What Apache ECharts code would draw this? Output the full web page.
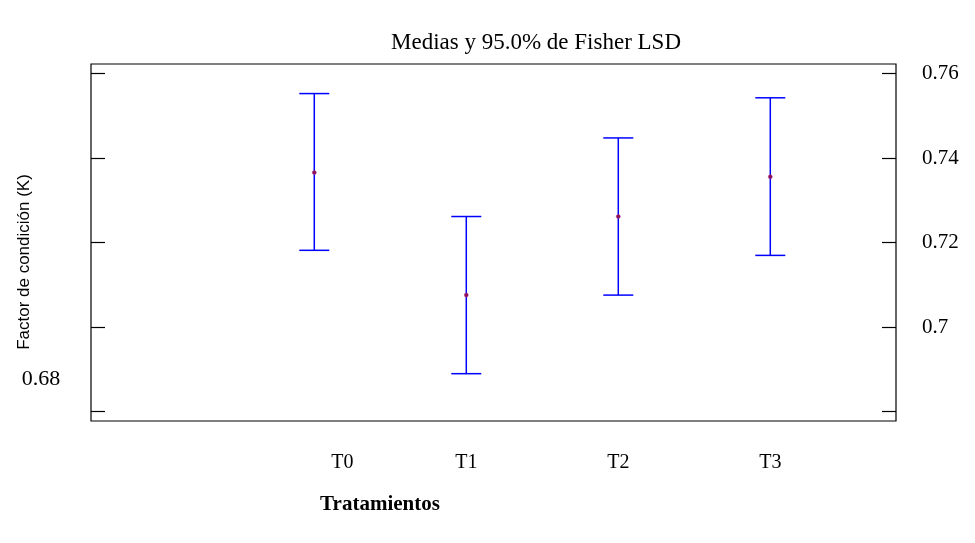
<!DOCTYPE html>
<html><head><meta charset="utf-8">
<script src="https://cdn.jsdelivr.net/npm/echarts@6/dist/echarts.min.js"></script>
<style>html,body{margin:0;padding:0;background:#fff}#c{width:975px;height:543px}</style>
</head><body><div id="c"></div>
<script>
const categories = ['T0', 'T1', 'T2', 'T3'];
const means  = [0.7366, 0.7076, 0.7262, 0.7356];
const lowers = [0.7182, 0.6890, 0.7076, 0.7170];
const uppers = [0.7553, 0.7262, 0.7448, 0.7543];
const yTicks = [0.68, 0.70, 0.72, 0.74, 0.76];
const rightLabelValues = [0.70, 0.72, 0.74, 0.76];
const leftLabelText = '0.68';
const titleText = 'Medias y 95.0% de Fisher LSD';
const yName = 'Factor de condición (K)';
const xName = 'Tratamientos';

const serif = '"Liberation Serif", "DejaVu Serif", serif';
const sans = '"Liberation Sans", Arial, sans-serif';
const chart = echarts.init(document.getElementById('c'), null, {renderer: 'canvas'});
const data = categories.map((c, i) => [i, lowers[i], uppers[i], means[i]]);

chart.setOption({
  backgroundColor: '#fff',
  animation: false,
  title: {
    text: titleText, left: 531, top: 26, textAlign: 'center',
    textStyle: {fontFamily: serif, fontSize: 23, fontWeight: 'normal', color: '#000'}
  },
  grid: {left: 91, right: 79, top: 64, bottom: 122, show: true, borderColor: '#000', borderWidth: 1.2, containLabel: false},
  xAxis: {
    type: 'value', min: -1.469, max: 3.827,
    axisLine: {show: false, onZero: false}, axisTick: {show: false}, splitLine: {show: false},
    axisLabel: {
      customValues: [0, 1, 2, 3], margin: 32,
      fontFamily: serif, fontSize: 20, color: '#000',
      formatter: v => { const i = Math.round(v); return i === 0 ? '{s|' + categories[i] + '}' : categories[i]; },
      rich: {s: {fontFamily: serif, fontSize: 20, color: '#000', padding: [0, 0, 0, 56]}}
    }
  },
  yAxis: [
    {
      type: 'value', position: 'right', min: 0.6778, max: 0.7623,
      axisLine: {show: false, onZero: false}, splitLine: {show: false},
      axisTick: {show: true, inside: true, length: 14, customValues: yTicks, lineStyle: {color: '#000', width: 1.2}},
      axisLabel: {customValues: rightLabelValues, margin: 26, fontFamily: serif, fontSize: 21, color: '#000',
        formatter: v => String(Math.round(v * 100) / 100)}
    },
    {
      type: 'value', position: 'left', min: 0.6778, max: 0.7623,
      axisLine: {show: false, onZero: false}, splitLine: {show: false},
      axisTick: {show: true, inside: true, length: 14, customValues: yTicks, lineStyle: {color: '#000', width: 1.2}},
      axisLabel: {show: false}
    }
  ],
  graphic: [
    {type: 'text', x: 24, y: 262, rotation: Math.PI / 2,
      style: {text: yName, fontFamily: sans, fontSize: 17, fill: '#000', textAlign: 'center', textVerticalAlign: 'middle'}},
    {type: 'text', x: 41, y: 379,
      style: {text: leftLabelText, fontFamily: serif, fontSize: 22, fill: '#000', textAlign: 'center', textVerticalAlign: 'middle'}},
    {type: 'text', x: 380, y: 505,
      style: {text: xName, fontFamily: serif, fontSize: 21, fontWeight: 'bold', fill: '#000', textAlign: 'center', textVerticalAlign: 'middle'}}
  ],
  series: [{
    type: 'custom', xAxisIndex: 0, yAxisIndex: 0, data: data,
    renderItem: (params, api) => {
      const x = api.value(0);
      const lo = api.coord([x, api.value(1)]);
      const hi = api.coord([x, api.value(2)]);
      const m = api.coord([x, api.value(3)]);
      const hw = 15;
      const st = {stroke: '#0000ff', lineWidth: 1.5};
      return {type: 'group', children: [
        {type: 'line', shape: {x1: lo[0], y1: hi[1], x2: lo[0], y2: lo[1]}, style: st},
        {type: 'line', shape: {x1: hi[0] - hw, y1: hi[1], x2: hi[0] + hw, y2: hi[1]}, style: st},
        {type: 'line', shape: {x1: lo[0] - hw, y1: lo[1], x2: lo[0] + hw, y2: lo[1]}, style: st},
        {type: 'circle', shape: {cx: m[0], cy: m[1], r: 2}, style: {fill: '#8a1060', stroke: '#b0306a', lineWidth: 0.5}}
      ]};
    }
  }]
});
</script>
</body></html>
